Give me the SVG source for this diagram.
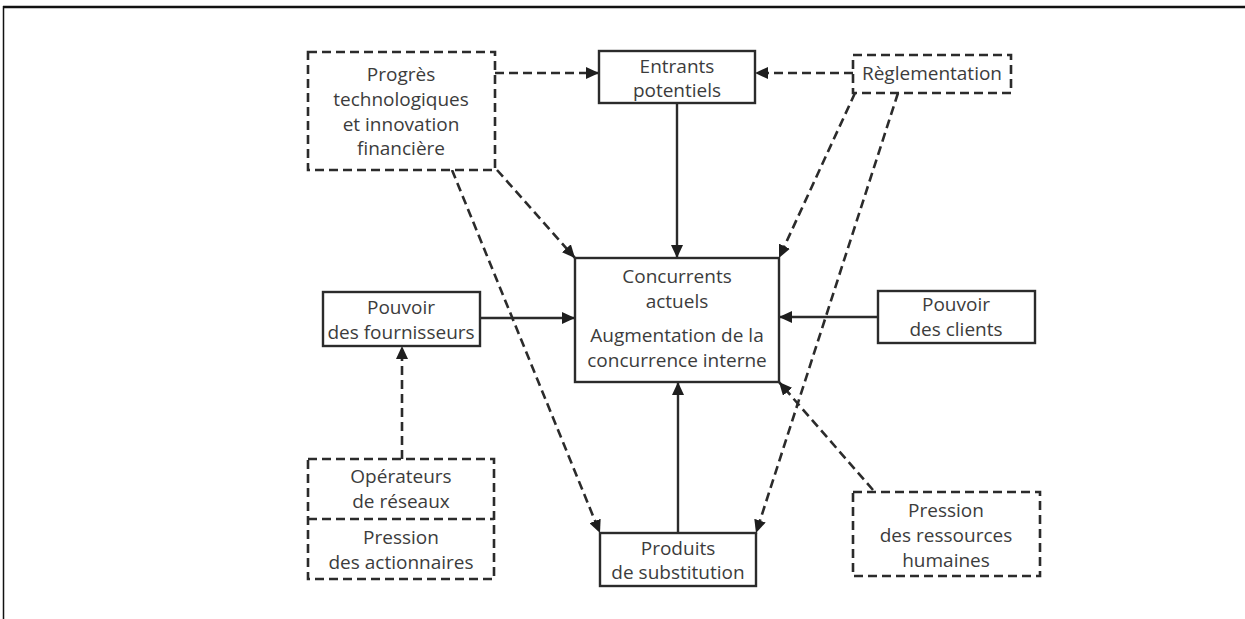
<svg xmlns="http://www.w3.org/2000/svg" width="1245" height="619" viewBox="0 0 1245 619">
  <style>
    .txt { font-family: "Open Sans", "DejaVu Sans", sans-serif; font-size: 19px; fill: #3c3c3c; text-anchor: middle; }
    .solid { fill: #ffffff; stroke: #2b2b2b; stroke-width: 2.4; }
    .dash { fill: #ffffff; stroke: #2b2b2b; stroke-width: 2.6; stroke-dasharray: 9 5; }
    .line { fill: none; stroke: #2b2b2b; stroke-width: 2.4; }
    .dline { fill: none; stroke: #2b2b2b; stroke-width: 2.6; stroke-dasharray: 9 5; }
  </style>
  <defs>
    <marker id="arrow" markerUnits="userSpaceOnUse" markerWidth="14" markerHeight="12" refX="13" refY="6" orient="auto">
      <path d="M0,0 L13,6 L0,12 z" fill="#1e1e1e"/>
    </marker>
  </defs>

  <rect width="1245" height="619" fill="#ffffff"/>
  <!-- outer frame -->
  <line x1="3" y1="7" x2="1245" y2="7" stroke="#111" stroke-width="2.5"/>
  <line x1="3.5" y1="6" x2="3.5" y2="619" stroke="#111" stroke-width="1.5"/>

  <g id="connectors">
    <path class="dline" d="M495,73 L599,73" marker-end="url(#arrow)"/>
    <path class="dline" d="M853,73 L755,73" marker-end="url(#arrow)"/>
    <path class="line" d="M677,103 L677,258" marker-end="url(#arrow)"/>
    <path class="dline" d="M497,170 L575,258" marker-end="url(#arrow)"/>
    <path class="dline" d="M452,170 L600,533" marker-end="url(#arrow)"/>
    <path class="dline" d="M855,93 L779,258" marker-end="url(#arrow)"/>
    <path class="dline" d="M898,93 L756,533" marker-end="url(#arrow)"/>
    <path class="line" d="M480,318 L575,318" marker-end="url(#arrow)"/>
    <path class="line" d="M878,317 L779,317" marker-end="url(#arrow)"/>
    <path class="line" d="M678,533 L678,382" marker-end="url(#arrow)"/>
    <path class="dline" d="M873,490 L779,382" marker-end="url(#arrow)"/>
    <path class="dline" d="M402,459 L402,346" marker-end="url(#arrow)"/>
  </g>

  <g id="progres">
    <rect class="dash" x="308" y="52" width="187" height="118"/>
    <text class="txt" x="401" y="81">Progrès</text>
    <text class="txt" x="401" y="106">technologiques</text>
    <text class="txt" x="401" y="131">et innovation</text>
    <text class="txt" x="401" y="155">financière</text>
  </g>

  <g id="entrants">
    <rect class="solid" x="599" y="51" width="156" height="52"/>
    <text class="txt" x="677" y="73">Entrants</text>
    <text class="txt" x="677" y="97">potentiels</text>
  </g>

  <g id="reglementation">
    <rect class="dash" x="853" y="55" width="158" height="38"/>
    <text class="txt" x="932" y="80">Règlementation</text>
  </g>

  <g id="concurrents">
    <rect class="solid" x="575" y="258" width="204" height="124"/>
    <text class="txt" x="677" y="283">Concurrents</text>
    <text class="txt" x="677" y="308">actuels</text>
    <text class="txt" x="677" y="342">Augmentation de la</text>
    <text class="txt" x="677" y="367">concurrence interne</text>
  </g>

  <g id="fournisseurs">
    <rect class="solid" x="323" y="292" width="157" height="54"/>
    <text class="txt" x="401" y="314">Pouvoir</text>
    <text class="txt" x="401" y="339">des fournisseurs</text>
  </g>

  <g id="clients">
    <rect class="solid" x="878" y="291" width="157" height="52"/>
    <text class="txt" x="956" y="311">Pouvoir</text>
    <text class="txt" x="956" y="336">des clients</text>
  </g>

  <g id="operateurs">
    <rect class="dash" x="308" y="459" width="186" height="120"/>
    <line class="dline" x1="308" y1="519" x2="494" y2="519"/>
    <text class="txt" x="401" y="483">Opérateurs</text>
    <text class="txt" x="401" y="508">de réseaux</text>
    <text class="txt" x="401" y="544">Pression</text>
    <text class="txt" x="401" y="569">des actionnaires</text>
  </g>

  <g id="substitution">
    <rect class="solid" x="600" y="533" width="156" height="53"/>
    <text class="txt" x="678" y="555">Produits</text>
    <text class="txt" x="678" y="579">de substitution</text>
  </g>

  <g id="ressources">
    <rect class="dash" x="853" y="492" width="187" height="84"/>
    <text class="txt" x="946" y="517">Pression</text>
    <text class="txt" x="946" y="542">des ressources</text>
    <text class="txt" x="946" y="567">humaines</text>
  </g>
</svg>
